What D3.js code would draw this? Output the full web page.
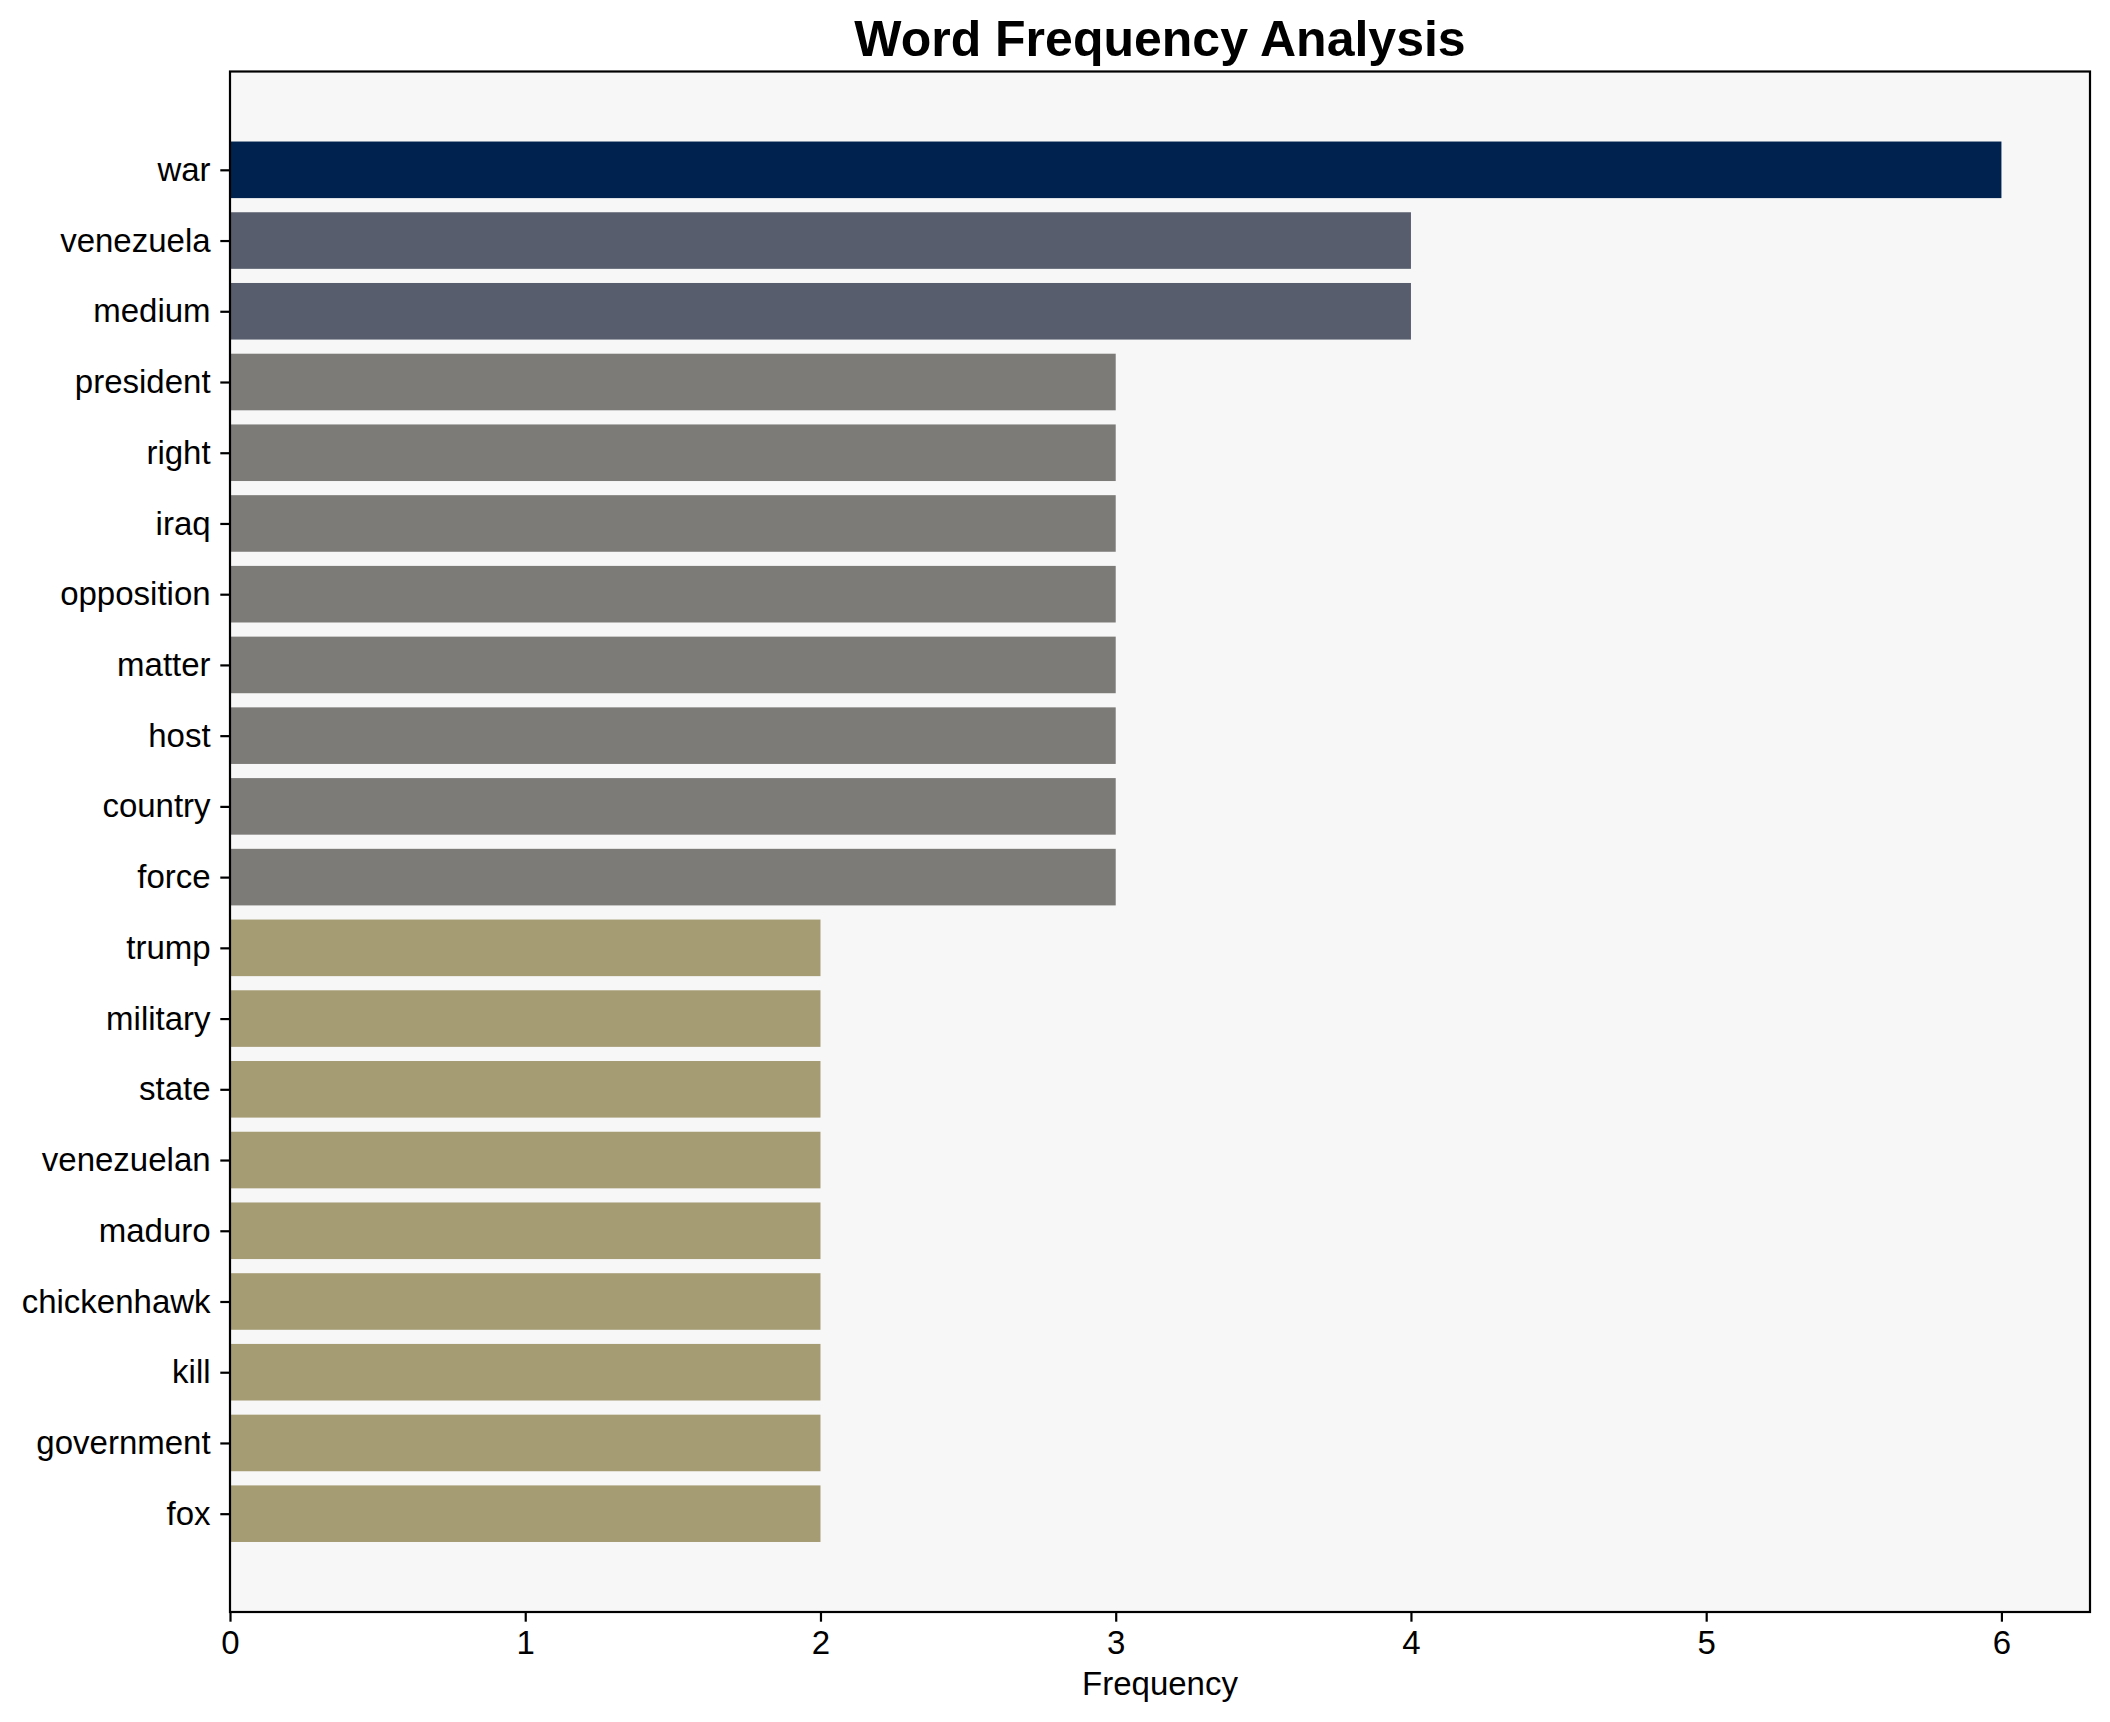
<!DOCTYPE html>
<html>
<head>
<meta charset="utf-8">
<script src="https://cdn.jsdelivr.net/npm/d3@7"></script>
<style>
html,body{margin:0;padding:0;background:#ffffff;}
svg{display:block;font-family:"Liberation Sans",Arial,sans-serif;}
</style>
</head>
<body>
<svg id="chart" width="2110" height="1722"></svg>
<script>
const words = ["war","venezuela","medium","president","right","iraq","opposition","matter","host","country","force","trump","military","state","venezuelan","maduro","chickenhawk","kill","government","fox"];
const counts = [6,4,4,3,3,3,3,3,3,3,3,2,2,2,2,2,2,2,2,2];
const xTicks = [0,1,2,3,4,5,6];
const colorByCount = {6:"#00224e",4:"#575d6d",3:"#7c7b78",2:"#a59c74"};

const W = 2110, H = 1722;
const m = {left:230, right:2090, top:71.5, bottom:1612};
const svg = d3.select("#chart");

const x = d3.scaleLinear().domain([0, 6.3]).range([m.left, m.right]);
const y = d3.scaleLinear().domain([-1.39, 20.39]).range([m.top, m.bottom]);
const bh = 0.8;

svg.append("rect").attr("x",m.left).attr("y",m.top)
  .attr("width",m.right-m.left).attr("height",m.bottom-m.top).attr("fill","#f7f7f7");

svg.append("g").selectAll("rect").data(words).join("rect")
  .attr("x", x(0))
  .attr("y", (d,i)=>y(i-bh/2))
  .attr("width", (d,i)=>x(counts[i])-x(0))
  .attr("height", y(bh)-y(0))
  .attr("fill", (d,i)=>colorByCount[counts[i]]);

svg.append("rect").attr("x",m.left).attr("y",m.top)
  .attr("width",m.right-m.left).attr("height",m.bottom-m.top)
  .attr("fill","none").attr("stroke","#000").attr("stroke-width",2.2);

const xAxis = d3.axisBottom(x).tickValues(xTicks).tickFormat(d3.format("d")).tickSize(9.7).tickPadding(9);
const gx = svg.append("g").attr("transform",`translate(0,${m.bottom})`).call(xAxis);
gx.select(".domain").remove();
gx.selectAll(".tick line").attr("stroke","#000").attr("stroke-width",2.2);
gx.selectAll(".tick text").attr("font-size",33).attr("fill","#000")
  .attr("font-family","Liberation Sans, Arial, sans-serif");

const yAxis = d3.axisLeft(y).tickValues(d3.range(words.length)).tickFormat(i=>words[i]).tickSize(9.7).tickPadding(9.7);
const gy = svg.append("g").attr("transform",`translate(${m.left},0)`).call(yAxis);
gy.select(".domain").remove();
gy.selectAll(".tick line").attr("stroke","#000").attr("stroke-width",2.2);
gy.selectAll(".tick text").attr("font-size",33).attr("fill","#000")
  .attr("font-family","Liberation Sans, Arial, sans-serif");

svg.append("text").attr("x",(m.left+m.right)/2).attr("y",1695)
  .attr("text-anchor","middle").attr("font-size",33).attr("fill","#000")
  .text("Frequency");

svg.append("text").attr("x",(m.left+m.right)/2).attr("y",56)
  .attr("text-anchor","middle").attr("font-size",50).attr("font-weight","bold").attr("fill","#000")
  .text("Word Frequency Analysis");
</script>
</body>
</html>
